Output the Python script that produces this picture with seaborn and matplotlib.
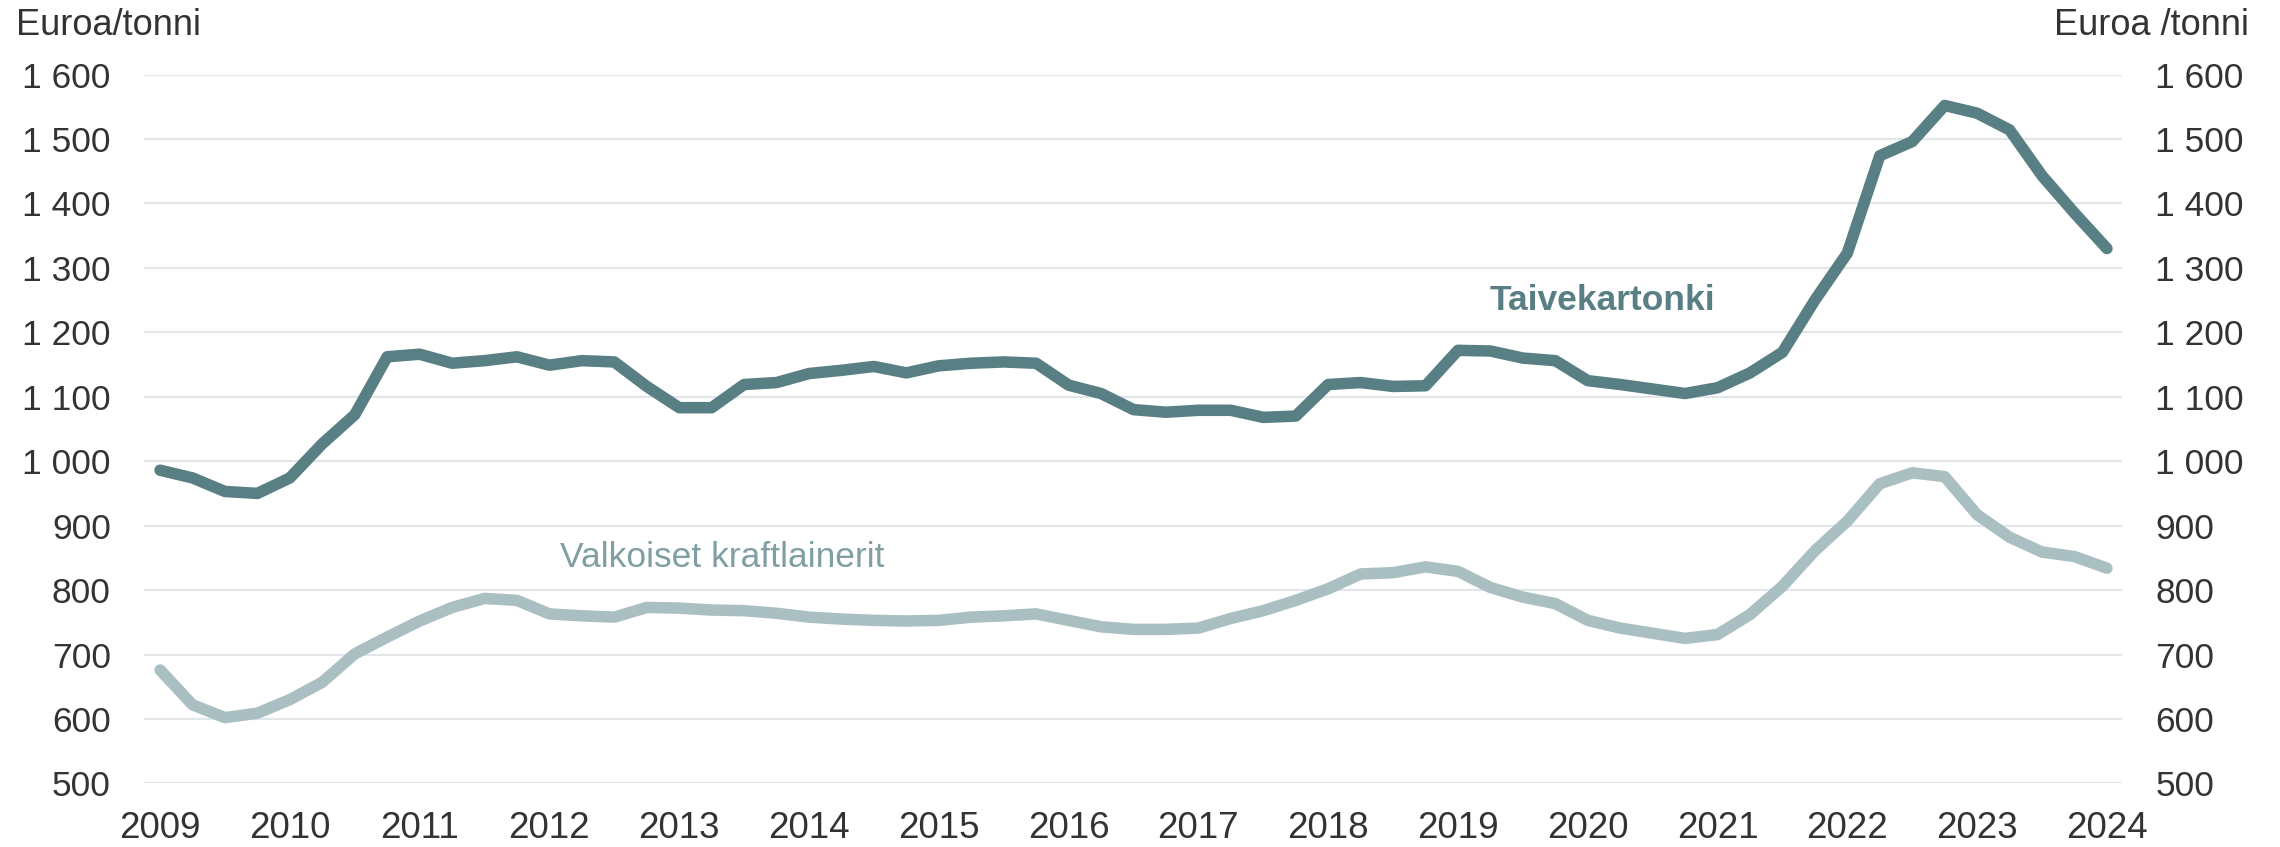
import numpy as np
import pandas as pd
import matplotlib
matplotlib.use("Agg")
import matplotlib.pyplot as plt
import seaborn as sns

# Quarterly data 2009Q1 .. 2024Q1
years = [2009 + q / 4 for q in range(61)]
taivekartonki = [
    986, 974, 953, 950, 974, 1027, 1072, 1162, 1166, 1152, 1156, 1162,
    1149, 1156, 1154, 1116, 1083, 1083, 1119, 1122, 1136, 1141, 1147, 1137,
    1148, 1152, 1154, 1152, 1118, 1105, 1080, 1076, 1079, 1079, 1068, 1070,
    1119, 1122, 1116, 1117, 1172, 1171, 1160, 1156, 1125, 1119, 1112, 1105,
    1114, 1137, 1169, 1250, 1323, 1474, 1496, 1552, 1540, 1514, 1443, 1385,
    1330,
]
valkoiset = [
    676, 622, 602, 609, 630, 657, 701, 727, 752, 773, 787, 784,
    763, 760, 758, 773, 772, 769, 768, 764, 758, 755, 753, 752,
    753, 758, 760, 763, 753, 743, 739, 739, 741, 756, 768, 784,
    802, 825, 827, 836, 829, 804, 789, 779, 753, 741, 733, 725,
    731, 762, 806, 861, 907, 965, 982, 976, 917, 882, 859, 852,
    834,
]
series_names = ["Taivekartonki", "Valkoiset kraftlainerit"]
x_ticks = list(range(2009, 2025))
y_ticks = list(range(500, 1700, 100))

def fmt(v):
    return f"{v:,}".replace(",", " ")

df = pd.DataFrame({
    "vuosi": years * 2,
    "hinta": taivekartonki + valkoiset,
    "sarja": [series_names[0]] * len(years) + [series_names[1]] * len(years),
})

sns.set_theme(style="white")
plt.rcParams["font.family"] = ["Liberation Sans", "DejaVu Sans"]

c_dark = "#587f84"
c_light = "#aabfc1"
c_light_text = "#7f9fa3"
c_text = "#333333"

fig = plt.figure(figsize=(22.8, 8.47), dpi=100)
ax = fig.add_axes([0.0632, 0.0751, 0.9307 - 0.0632, 0.912 - 0.0751])

sns.lineplot(data=df, x="vuosi", y="hinta", hue="sarja",
             palette={series_names[0]: c_dark, series_names[1]: c_light},
             hue_order=[series_names[1], series_names[0]],
             linewidth=8.3, legend=False, ax=ax, zorder=3)
for ln in ax.get_lines():
    ln.set_linewidth(8.3)
    ln.set_solid_capstyle("round")
    ln.set_solid_joinstyle("round")

ax.set_xlim(2009 - 0.123, 2024 + 0.116)
ax.set_ylim(500, 1600)
ax.set_yticks(y_ticks)
ax.set_yticklabels([fmt(v) for v in y_ticks])
ax.set_xticks(x_ticks)
ax.set_xticklabels([str(v) for v in x_ticks])
ax.grid(axis="y", color="#e1e6e9", linewidth=1.5, zorder=0)
ax.grid(axis="x", visible=False)
for s in ax.spines.values():
    s.set_visible(False)
ax.set_xlabel("")
ax.set_ylabel("")
ax.tick_params(axis="y", length=0, pad=24, labelsize=25.5, labelcolor=c_text,
               left=True, right=True, labelleft=True, labelright=True)
ax.tick_params(axis="x", length=0, pad=20, labelsize=26.5, labelcolor=c_text)
ax.set_axisbelow(True)

fig.text(16 / 2280, 1 - 35 / 847, "Euroa/tonni", fontsize=26, color=c_text,
         ha="left", va="baseline")
fig.text(2249 / 2280, 1 - 35 / 847, "Euroa /tonni", fontsize=26, color=c_text,
         ha="right", va="baseline")

ax.text(2020.11, 1250, "Taivekartonki", fontsize=25.5, fontweight="bold",
        color=c_dark, ha="center", va="center")
ax.text(2013.33, 850, "Valkoiset kraftlainerit", fontsize=25.5,
        color=c_light_text, ha="center", va="center")

fig.savefig("out.png", dpi=100, facecolor="white")
